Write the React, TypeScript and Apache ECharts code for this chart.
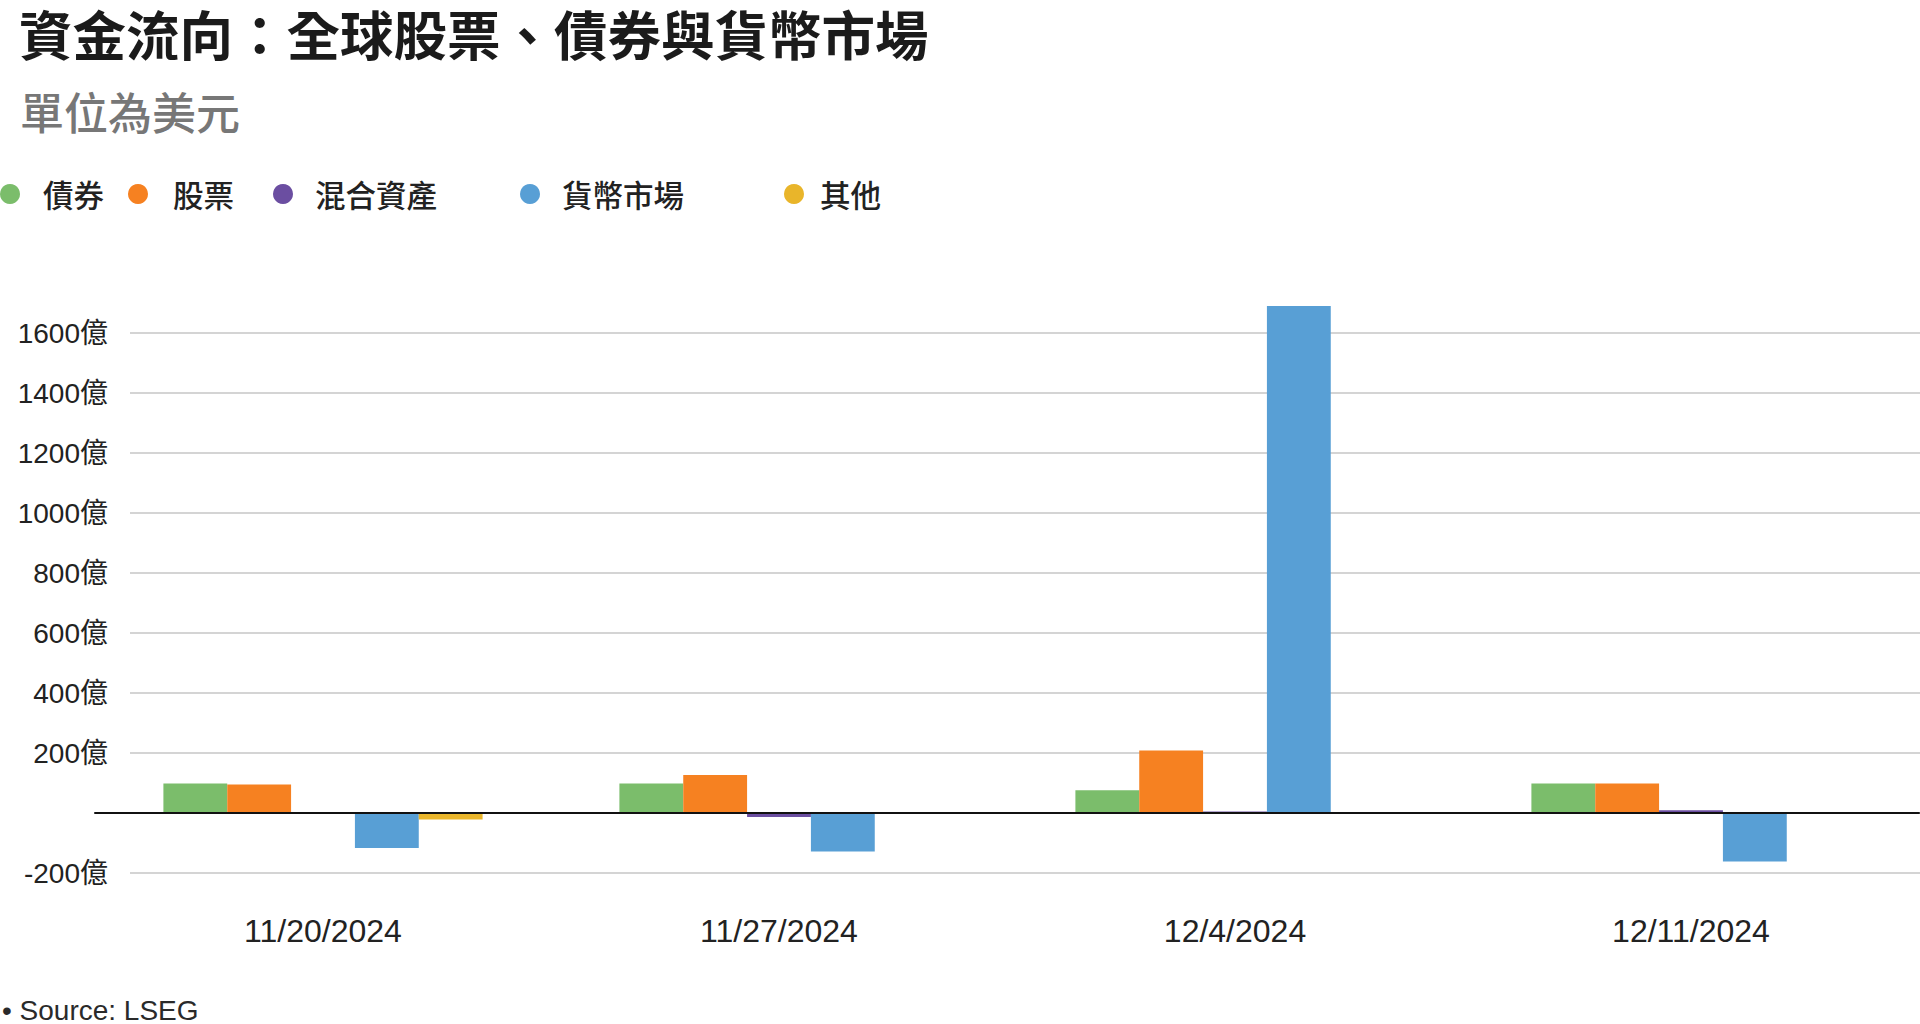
import React, { useEffect, useRef } from "react";
import * as echarts from "echarts";

const categories = ["11/20/2024", "11/27/2024", "12/4/2024", "12/11/2024"];
const seriesNames = ["債券", "股票", "混合資產", "貨幣市場", "其他"];
const bonds = [98, 98, 76, 98];
const equities = [95, 127, 208, 98];
const mixed = [0, -13, 5, 9];
const moneyMarket = [-117, -128, 1690, -162];
const other = [-22, 0, -3, 0];
const seriesValues = [bonds, equities, mixed, moneyMarket, other];
const colors = ["#7bbd6b", "#f68121", "#6b4ea1", "#589fd5", "#e9b52a"];
const yTicks = { min: -200, max: 1600, interval: 200 };
const unitSuffix = "億";

const legendLayout = [
  { left: 0, pad: 18 },
  { left: 128, pad: 20 },
  { left: 273, pad: 17 },
  { left: 520, pad: 17 },
  { left: 784, pad: 11 },
];

const CJK = '"Noto Sans CJK TC", "Noto Sans CJK SC", sans-serif';
const LATIN = '"Liberation Sans", Arial, "Noto Sans CJK TC", sans-serif';

export default function App() {
  const ref = useRef<HTMLDivElement>(null);
  useEffect(() => {
    if (!ref.current) return;
    const chart = echarts.init(ref.current, null, { renderer: "svg" });
    const gridTop = 333;
    const gridBottom = 151;
    chart.setOption({
      animation: false,
      backgroundColor: "#ffffff",
      title: [
        {
          text: "資金流向：全球股票、債券與貨幣市場",
          left: 19,
          top: 1,
          padding: 0,
          textStyle: { fontFamily: CJK, fontSize: 53.5, fontWeight: "bold", color: "#1b1b1b", lineHeight: 62 },
        },
        {
          text: "單位為美元",
          left: 20,
          top: 86,
          padding: 0,
          textStyle: { fontFamily: CJK, fontSize: 44, fontWeight: 500, color: "#777777", lineHeight: 50 },
        },
        {
          text: "• Source: LSEG",
          left: 2,
          top: 996,
          padding: 0,
          textStyle: { fontFamily: LATIN, fontSize: 28, fontWeight: "normal", color: "#2a2a2a", lineHeight: 28 },
        },
      ],
      legend: seriesNames.map((name, i) => ({
        data: [name],
        left: legendLayout[i].left,
        top: 178,
        padding: 0,
        icon: "circle",
        itemWidth: 20,
        itemHeight: 20,
        selectedMode: false,
        textStyle: {
          fontFamily: CJK,
          fontSize: 30.5,
          fontWeight: 500,
          color: "#222222",
          lineHeight: 32,
          padding: [0, 0, 0, legendLayout[i].pad],
        },
      })),
      grid: [
        { left: 130, right: 0, top: gridTop, bottom: gridBottom },
        { left: 95, right: 1, top: gridTop, bottom: gridBottom },
      ],
      xAxis: [
        { gridIndex: 0, type: "value", show: false, min: 0, max: 1 },
        {
          gridIndex: 1,
          type: "category",
          data: categories,
          z: 10,
          axisLine: { show: true, onZero: true, lineStyle: { color: "#111111", width: 2 } },
          axisTick: { show: false },
          axisLabel: { fontFamily: LATIN, fontSize: 32, color: "#222222", margin: 42 },
          splitLine: { show: false },
        },
      ],
      yAxis: [
        {
          gridIndex: 0,
          type: "value",
          min: yTicks.min,
          max: yTicks.max,
          interval: yTicks.interval,
          axisLine: { show: false },
          axisTick: { show: false },
          splitLine: { show: true, lineStyle: { color: "#d4d4d4", width: 2 } },
          axisLabel: {
            fontFamily: LATIN,
            fontSize: 28,
            color: "#222222",
            margin: 22,
            formatter: (v: number) => (v === 0 ? "" : `${v}${unitSuffix}`),
          },
        },
        {
          gridIndex: 1,
          type: "value",
          min: yTicks.min,
          max: yTicks.max,
          interval: yTicks.interval,
          show: false,
          splitLine: { show: false },
        },
      ],
      series: seriesNames.map((name, i) => ({
        name,
        type: "bar",
        xAxisIndex: 1,
        yAxisIndex: 1,
        data: seriesValues[i],
        clip: false,
        barGap: "0%",
        barCategoryGap: "30%",
        itemStyle: { color: colors[i] },
      })),
    });
    return () => chart.dispose();
  }, []);
  return (
    <div
      ref={ref}
      style={{ position: "fixed", left: 0, top: 0, width: 1920, height: 1024, background: "#fff" }}
    />
  );
}
